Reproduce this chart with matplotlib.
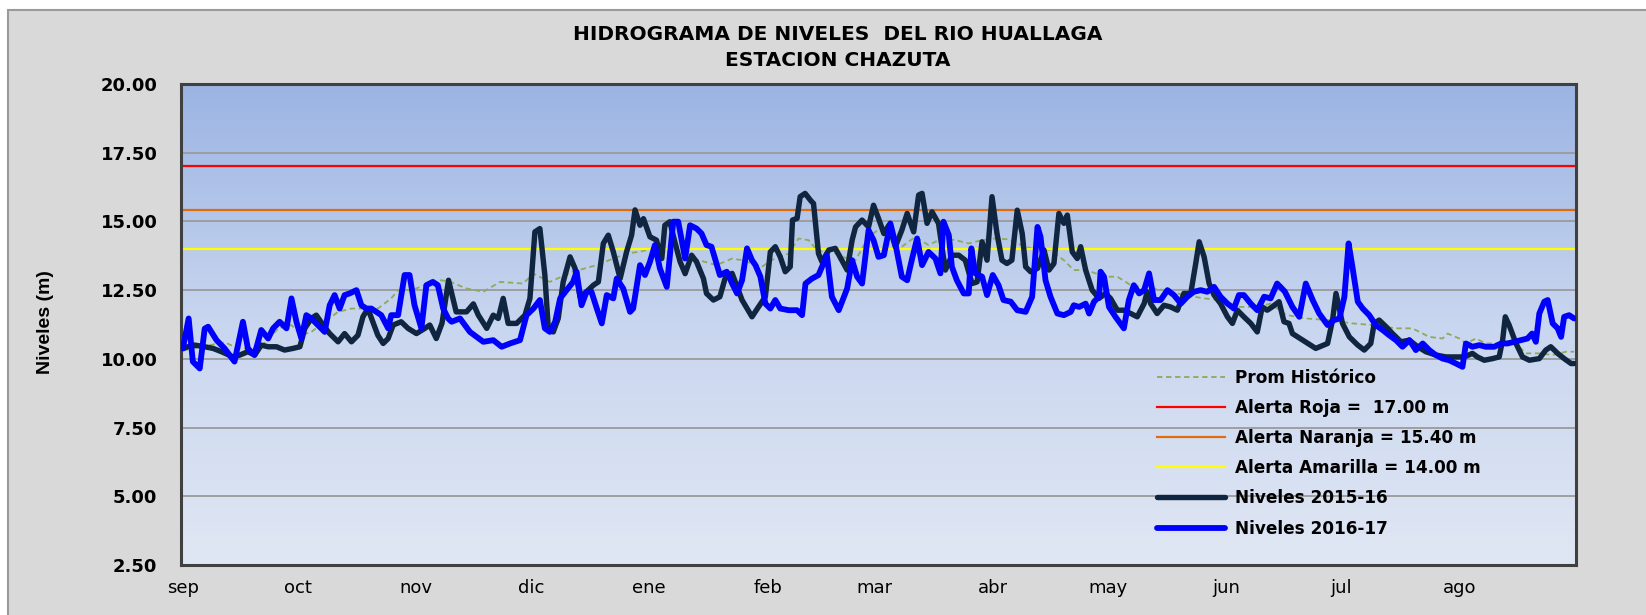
import matplotlib.pyplot as plt
import numpy as np
import pandas as pd
from matplotlib.colors import LinearSegmentedColormap
from matplotlib.patches import Rectangle

# Niveles: dia contado desde el 1 de setiembre, nivel en metros
dias_1516 = [0, 1.5, 3.1, 5.7, 7.9, 10.1, 13.1, 14.9, 17.0, 18.8, 20.5, 22.3, 24.5, 26.6, 28.8,
             30.6, 31.9, 33.6, 34.9, 36.7, 38.4, 40.6, 42.3, 44.1, 45.8, 47.1, 48.4, 49.7, 51.0,
             52.4, 53.7, 55.0, 57.1, 58.9, 61.1, 63.3, 64.6, 66.3, 67.8, 69.5, 71.5, 74.2, 76.0,
             77.3, 79.5, 81.2, 82.5, 83.8, 85.1, 87.3, 89.5, 90.8, 92.1, 93.4, 94.7, 95.6, 96.9,
             98.2, 99.5, 101.3, 102.6, 103.9, 105.6, 107.4, 108.7, 110.0, 111.3, 112.6, 114.4,
             116.1, 117.4, 118.3, 119.6, 120.5, 122.2, 123.9, 125.3, 126.1, 127.4, 128.7, 130.1,
             131.4, 133.1, 134.4, 136.2, 137.0, 138.8, 140.5, 142.0, 143.7, 146.3, 148.9, 150.6,
             152.4, 153.7, 155.0, 156.3, 157.6, 158.9, 159.5, 160.7, 161.5, 162.8, 164.2, 165.0,
             166.3, 167.2, 169.0, 170.7, 172.4, 173.8, 175.1, 176.0, 177.7, 179.4, 180.7, 182.0,
             183.4, 184.7, 186.4, 188.1, 189.5, 191.2, 192.5, 193.4, 194.7, 196.0, 197.7, 199.5,
             201.2, 203.0, 204.7, 206.5, 207.8, 209.1, 210.4, 211.7, 213.0, 214.3, 215.6, 216.9,
             218.3, 219.6, 220.5, 221.8, 223.6, 225.3, 226.6, 227.9, 229.2, 230.5, 231.4, 232.7,
             234.0, 234.9, 236.2, 237.9, 239.7, 241.4, 242.7, 244.5, 246.2, 248.0, 249.7, 251.5,
             252.3, 253.2, 254.9, 256.7, 258.4, 260.2, 261.9, 263.7, 265.0, 265.9, 267.2, 268.5,
             269.8, 271.5, 273.3, 274.6, 275.9, 277.6, 279.4, 281.1, 282.4, 283.7, 285.0, 286.8,
             288.1, 289.4, 290.3, 293.0, 296.4, 299.5, 300.8, 301.7, 303.4, 305.2, 307.4, 309.1,
             310.8, 311.7, 313.0, 314.8, 316.5, 318.7, 320.9, 323.1, 325.2, 327.8, 330.5, 333.1,
             335.3, 337.4, 338.7, 340.5, 342.7, 344.4, 345.3, 346.0, 347.0, 348.8, 350.5, 352.3,
             354.9, 356.6, 357.9, 359.7, 361.4, 363.2, 364]
niv_1516 = [10.38, 10.45, 10.50, 10.44, 10.38, 10.26, 10.07, 10.14, 10.26, 10.14, 10.50, 10.44,
            10.44, 10.32, 10.38, 10.44, 11.11, 11.47, 11.59, 11.23, 10.92, 10.62, 10.92, 10.62,
            10.86, 11.53, 11.83, 11.35, 10.86, 10.56, 10.74, 11.23, 11.35, 11.11, 10.92, 11.11,
            11.23, 10.74, 11.30, 12.86, 11.71, 11.71, 12.00, 11.59, 11.11, 11.59, 11.47, 12.20,
            11.29, 11.29, 11.59, 12.20, 14.62, 14.74, 13.05, 11.11, 10.98, 11.47, 12.80, 13.71,
            13.29, 12.26, 12.44, 12.68, 12.80, 14.20, 14.50, 13.90, 12.92, 13.90, 14.50, 15.42,
            14.86, 15.10, 14.44, 14.32, 13.65, 14.86, 14.99, 14.26, 13.53, 13.10, 13.77, 13.53,
            12.92, 12.38, 12.14, 12.26, 13.00, 13.11, 12.14, 11.53, 11.89, 12.26, 13.89, 14.08,
            13.71, 13.17, 13.35, 15.05, 15.11, 15.90, 16.02, 15.77, 15.65, 13.83, 13.53, 13.96,
            14.02, 13.59, 13.23, 14.32, 14.80, 15.05, 14.80, 15.59, 15.11, 14.56, 14.86, 14.08,
            14.68, 15.29, 14.62, 15.96, 16.02, 14.93, 15.35, 14.93, 13.23, 13.77, 13.77, 13.59,
            12.74, 12.80, 14.26, 13.59, 15.90, 14.56, 13.59, 13.47, 13.59, 15.41, 14.56, 13.35,
            13.17, 13.29, 13.96, 13.23, 13.47, 15.29, 14.93, 15.23, 13.89, 13.65, 14.08, 13.23,
            12.50, 12.20, 12.38, 12.20, 11.77, 11.77, 11.65, 11.53, 12.01, 12.44, 12.01, 11.65,
            11.95, 11.89, 11.77, 12.38, 12.38, 13.47, 14.26, 13.71, 12.74, 12.32, 12.01, 11.53,
            11.29, 11.77, 11.53, 11.29, 10.98, 11.89, 11.77, 11.89, 12.08, 11.35, 11.29, 10.92,
            10.68, 10.38, 10.56, 11.41, 12.38, 11.29, 10.80, 10.50, 10.32, 10.56, 11.29, 11.41,
            11.17, 10.92, 10.62, 10.68, 10.44, 10.26, 10.14, 10.07, 10.07, 10.07, 10.20, 10.07,
            9.95, 10.01, 10.07, 10.68, 11.53, 11.23, 10.56, 10.07, 9.95, 10.01, 10.32, 10.44,
            10.20, 10.01, 9.83, 9.83]

dias_1617 = [0, 1.5, 2.6, 4.4, 5.7, 6.6, 8.8, 10.9, 13.5, 15.7, 17.0, 18.7, 20.5, 22.3, 23.6,
             25.3, 27.1, 28.4, 29.7, 31.0, 32.3, 33.6, 35.3, 37.1, 38.4, 39.7, 41.0, 42.3, 43.6,
             45.4, 46.7, 48.0, 49.3, 50.6, 51.9, 53.7, 54.5, 56.3, 58.0, 59.3, 60.6, 62.4, 63.7,
             65.4, 66.7, 68.1, 69.4, 70.3, 72.5, 75.1, 78.6, 81.2, 83.4, 85.6, 88.2, 89.9, 91.7,
             93.4, 94.7, 96.0, 97.4, 98.7, 100.4, 102.1, 103.0, 104.3, 105.6, 106.9, 108.3, 109.6,
             110.9, 112.6, 113.5, 115.2, 117.0, 117.8, 119.6, 120.9, 122.2, 123.5, 124.8, 126.6,
             128.3, 129.6, 131.4, 132.7, 134.4, 135.7, 137.0, 138.3, 140.5, 142.3, 143.7, 145.0,
             146.3, 147.6, 148.9, 149.8, 151.1, 152.4, 153.7, 155.0, 156.3, 158.5, 160.7, 162.0,
             162.9, 164.6, 166.3, 167.6, 168.5, 169.8, 171.6, 173.8, 175.1, 176.4, 177.7, 179.4,
             180.7, 182.0, 183.4, 185.1, 186.4, 188.1, 189.5, 190.8, 192.1, 193.4, 195.1, 196.9,
             198.2, 199.0, 200.4, 201.2, 202.5, 204.3, 205.6, 206.3, 207.3, 209.1, 210.4, 211.9,
             213.4, 214.7, 216.6, 218.3, 220.5, 222.2, 223.6, 224.4, 225.7, 227.0, 228.8, 230.5,
             232.3, 233.1, 234.5, 236.2, 237.1, 238.4, 239.7, 240.1, 241.0, 242.3, 244.0, 246.2,
             247.5, 248.8, 250.2, 251.5, 252.8, 254.1, 255.8, 257.6, 259.3, 261.1, 262.8, 264.5,
             266.3, 268.0, 269.8, 271.5, 273.3, 275.0, 276.3, 277.6, 279.4, 281.1, 282.9, 284.6,
             286.3, 288.3, 290.3, 292.1, 293.8, 295.6, 297.3, 299.5, 301.2, 302.6, 303.9, 305.0,
             306.0, 307.4, 308.7, 310.4, 312.1, 313.9, 315.6, 317.4, 319.1, 320.9, 322.6, 324.4,
             326.1, 327.8, 329.6, 331.3, 333.1, 334.8, 335.7, 337.4, 339.2, 340.9, 343.1, 344.9,
             346.6, 348.3, 350.1, 351.8, 353.0, 354.0, 354.9, 356.2, 357.1, 358.4, 359.7, 360.6,
             361.4, 362.7, 364]
niv_1617 = [10.38, 11.47, 9.90, 9.65, 11.10, 11.17, 10.68, 10.38, 9.90, 11.35, 10.38, 10.14,
            11.05, 10.74, 11.11, 11.35, 11.11, 12.20, 11.35, 10.74, 11.59, 11.47, 11.23, 10.98,
            11.95, 12.32, 11.83, 12.32, 12.38, 12.50, 11.95, 11.83, 11.83, 11.71, 11.59, 11.11,
            11.59, 11.59, 13.05, 13.05, 11.95, 11.11, 12.68, 12.80, 12.68, 11.83, 11.47, 11.35,
            11.47, 10.98, 10.62, 10.68, 10.44, 10.56, 10.68, 11.59, 11.83, 12.14, 11.11, 10.98,
            11.35, 12.20, 12.50, 12.80, 13.17, 11.95, 12.44, 12.44, 11.83, 11.29, 12.32, 12.20,
            12.92, 12.56, 11.71, 11.83, 13.41, 13.05, 13.53, 14.14, 13.29, 12.62, 14.99, 14.99,
            13.65, 14.86, 14.74, 14.56, 14.14, 14.08, 13.05, 13.17, 12.74, 12.38, 12.86, 14.02,
            13.59, 13.41, 12.99, 12.01, 11.83, 12.14, 11.83, 11.77, 11.77, 11.59, 12.74, 12.92,
            13.05, 13.47, 13.77, 12.26, 11.77, 12.56, 13.59, 12.99, 12.74, 14.68, 14.32, 13.71,
            13.77, 14.93, 14.20, 12.99, 12.86, 13.65, 14.38, 13.41, 13.89, 13.65, 13.11, 14.99,
            14.50, 13.35, 12.86, 12.38, 12.38, 14.02, 13.11, 12.99, 12.32, 13.05, 12.68, 12.14,
            12.08, 11.77, 11.71, 12.26, 14.80, 14.44, 12.86, 12.26, 11.65, 11.59, 11.71, 11.95,
            11.89, 12.01, 11.65, 12.08, 12.26, 13.17, 12.99, 11.89, 11.53, 11.11, 12.14, 12.68,
            12.38, 12.50, 13.11, 12.14, 12.14, 12.50, 12.32, 12.01, 12.26, 12.44, 12.50, 12.44,
            12.62, 12.26, 12.01, 11.83, 12.32, 12.32, 12.01, 11.77, 12.26, 12.20, 12.74, 12.45,
            11.89, 11.53, 12.74, 12.14, 11.65, 11.23, 11.41, 11.47, 12.26, 14.20, 13.35, 12.08,
            11.83, 11.59, 11.23, 11.05, 10.86, 10.68, 10.44, 10.68, 10.32, 10.56, 10.32, 10.14,
            10.01, 9.95, 9.83, 9.71, 10.56, 10.44, 10.50, 10.44, 10.44, 10.56, 10.56, 10.62,
            10.68, 10.74, 10.92, 10.62, 11.65, 12.08, 12.14, 11.29, 11.11, 10.80, 11.53, 11.59,
            11.47]

dias_prom = [0, 7, 11, 14.4, 19.6, 22.3, 24.9, 28.4, 31, 33.6, 37.1, 40.6, 44.1, 47.6, 51, 54.5,
             56.3, 59.8, 63.3, 67.6, 70, 74.2, 78.6, 83, 89, 91.7, 96, 102, 108.3, 112.6, 116.1,
             119.6, 123.1, 128.3, 133.5, 139.6, 143.7, 146.3, 148.9, 151.5, 154, 158.5, 161.1,
             163.7, 166.3, 169, 172.4, 176, 179.4, 182, 184.7, 188.1, 191.6, 195.1, 198.6, 202.1,
             205.6, 209.1, 212.6, 216, 218.3, 221.8, 227, 230.5, 233.1, 236.6, 241, 244.5, 248,
             251.5, 256.7, 261.9, 267.2, 271.5, 275.9, 281.1, 284.6, 288.6, 293.8, 300, 306,
             311.3, 317.4, 321.7, 326.1, 329.6, 330.9, 334, 335.7, 338.3, 340.9, 344.4, 347.9,
             351.4, 354.9, 358.4, 361.9, 364]
niv_prom = [10.30, 10.50, 10.60, 10.38, 10.38, 10.68, 11.11, 11.23, 10.86, 10.98, 11.35, 11.71,
            11.83, 11.83, 11.83, 12.20, 12.50, 12.50, 12.68, 12.86, 12.80, 12.56, 12.44, 12.80,
            12.74, 13.10, 12.80, 13.17, 13.41, 13.65, 13.83, 13.90, 14.02, 13.83, 13.65, 13.41,
            13.65, 13.59, 13.47, 13.35, 13.59, 13.83, 14.38, 14.32, 13.89, 13.96, 13.71, 13.59,
            14.44, 14.70, 14.44, 14.08, 14.44, 14.14, 14.38, 14.32, 14.20, 14.32, 14.38, 14.35,
            14.20, 14.02, 13.96, 13.59, 13.23, 13.23, 12.99, 12.99, 12.68, 12.62, 12.50, 12.32,
            12.20, 12.14, 11.89, 11.89, 12.01, 11.60, 11.47, 11.41, 11.29, 11.23, 11.11, 11.11,
            10.80, 10.74, 10.92, 10.74, 10.56, 10.74, 10.56, 10.56, 10.68, 10.20, 10.20, 10.14,
            10.26, 10.26]

meses = ['sep', 'oct', 'nov', 'dic', 'ene', 'feb', 'mar', 'abr', 'may', 'jun', 'jul', 'ago']
alerta_roja = 17.00
alerta_naranja = 15.40
alerta_amarilla = 14.00

inicio = pd.Timestamp('2016-09-01')
pos_meses = (pd.date_range(inicio, periods=12, freq='MS') - inicio).days

fig = plt.figure(figsize=(16.46, 6.15), dpi=100)
fig.patch.set_facecolor('white')
fig.add_artist(Rectangle((8 / 1646, -0.05), 1.0, 1.05 - 10 / 615, transform=fig.transFigure,
                         facecolor='#D9D9D9', edgecolor='#9A9A9A', lw=1.5, zorder=-10))

ax = fig.add_axes([181 / 1646, 1 - 565 / 615, 1395 / 1646, 481 / 615])

# fondo degradado del area de trazado
fondo = LinearSegmentedColormap.from_list('fondo', [(0, '#E0E7F4'), (0.5, '#C9D6EF'), (1, '#9BB4E3')])
ax.imshow(np.linspace(0, 1, 256).reshape(-1, 1), cmap=fondo, origin='lower', extent=[0, 1, 0, 1],
          transform=ax.transAxes, aspect='auto', zorder=0)

ax.plot(dias_prom, niv_prom, color='#8EAA5A', lw=1.3, ls=(0, (3, 2)), label='Prom Histórico', zorder=2)
ax.axhline(alerta_roja, color='#FF0000', lw=1.6, label=f'Alerta Roja =  {alerta_roja:.2f} m', zorder=2)
ax.axhline(alerta_naranja, color='#E36C0A', lw=1.6, label=f'Alerta Naranja = {alerta_naranja:.2f} m', zorder=2)
ax.axhline(alerta_amarilla, color='#FFFF00', lw=1.6, label=f'Alerta Amarilla = {alerta_amarilla:.2f} m', zorder=2)
ax.plot(dias_1516, niv_1516, color='#10253F', lw=3.9, solid_joinstyle='round', solid_capstyle='round',
        label='Niveles 2015-16', zorder=3)
ax.plot(dias_1617, niv_1617, color='#0000FF', lw=4.2, solid_joinstyle='round', solid_capstyle='round',
        label='Niveles 2016-17', zorder=4)

ax.set_xlim(-0.5, 364.5)
ax.set_ylim(2.5, 20)
ax.set_yticks(np.arange(2.5, 20.01, 2.5))
ax.set_yticklabels([f'{v:.2f}' for v in np.arange(2.5, 20.01, 2.5)], fontweight='bold', fontsize=13)
ax.set_xticks(pos_meses)
ax.set_xticklabels(meses, fontsize=13)
ax.tick_params(axis='y', length=0, pad=17)
ax.tick_params(axis='x', length=0, pad=10)
ax.yaxis.grid(True, color='#9A9A9A', lw=1.3, zorder=1)
ax.set_axisbelow(True)
for s in ax.spines.values():
    s.set_color('#404040')
    s.set_linewidth(2.2)

ax.legend(loc='upper left', bbox_to_anchor=(0.6997, 0.4085), frameon=False, borderpad=0,
          borderaxespad=0, handlelength=4.0, handletextpad=0.6, labelspacing=0.72,
          prop={'weight': 'bold', 'size': 12.2})

fig.text(838 / 1646, 1 - 35 / 615, 'HIDROGRAMA DE NIVELES  DEL RIO HUALLAGA', ha='center', va='center',
         fontsize=14.5, fontweight='bold')
fig.text(838 / 1646, 1 - 61 / 615, 'ESTACION CHAZUTA', ha='center', va='center',
         fontsize=14.5, fontweight='bold')
fig.text(46 / 1646, 0.477, 'Niveles (m)', rotation=90, ha='center', va='center', fontsize=14,
         fontweight='bold', family=['Liberation Sans Narrow', 'Liberation Sans', 'DejaVu Sans'])

fig.savefig('out.png', dpi=100, facecolor=fig.get_facecolor())
